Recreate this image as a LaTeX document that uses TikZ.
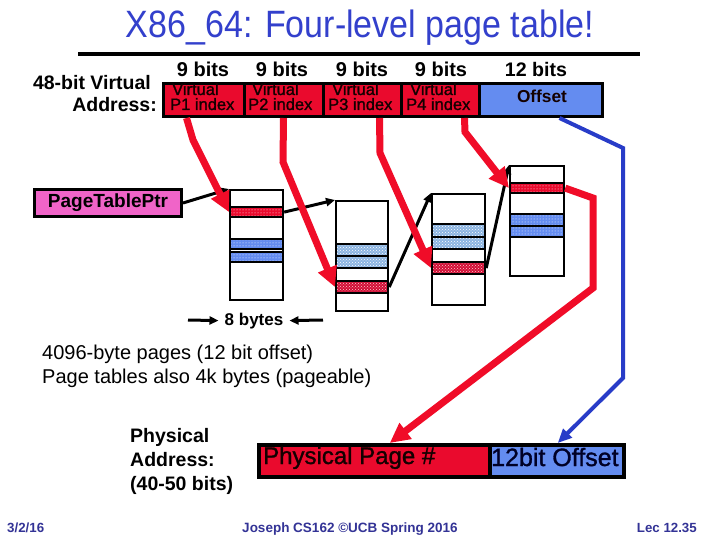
\documentclass[tikz,border=0pt]{standalone}
\usepackage{fontspec}
\setmainfont{Liberation Sans}
\newfontfamily\thickfont{Liberation Sans}[FakeBold=1.2]
\usetikzlibrary{arrows.meta,patterns}
\definecolor{ttl}{RGB}{51,64,204}
\definecolor{foot}{RGB}{51,51,150}
\definecolor{vred}{RGB}{234,10,45}
\definecolor{vblue}{RGB}{100,140,240}
\definecolor{pinkb}{RGB}{240,100,200}
\definecolor{darkt}{RGB}{20,0,0}
\definecolor{lblue}{RGB}{140,180,225}
\definecolor{dred}{RGB}{210,15,55}
\definecolor{arrred}{RGB}{240,12,40}
\definecolor{arrblue}{RGB}{40,60,200}
\tikzset{
  txt/.style={inner sep=0pt},
  fsz/.style={font=\fontsize{#1}{#1}\selectfont},
  tsz/.style={font=\thickfont\fontsize{#1}{#1}\selectfont},
  bsz/.style={font=\bfseries\fontsize{#1}{#1}\selectfont},
  vbox/.style={draw=black, line width=3pt, fill=vred, anchor=north west, minimum height=33pt, inner sep=0pt},
  tbl/.style={draw=black, line width=2pt, fill=white, anchor=north west, inner sep=0pt},
  band/.style={draw=black, line width=2.2pt, anchor=north west, inner sep=0pt},
  redA/.style={preaction={fill=vred}, preaction={pattern=dots, pattern color=white}},
  blueA/.style={preaction={fill=vblue}, preaction={pattern=dots, pattern color=white}},
  redB/.style={preaction={fill=dred}, preaction={pattern=crosshatch dots, pattern color=white!80!red}},
  blueB/.style={preaction={fill=lblue}, preaction={pattern=crosshatch dots, pattern color=white}},
  blk/.style={draw=black, line width=3pt, -{Triangle[length=9pt,width=8pt]}},
  rarr/.style={draw=arrred, line width=7pt, line join=miter, -{Triangle[length=20pt,width=19pt]}},
  barr/.style={draw=arrblue, line width=4pt, -{Triangle[length=14pt,width=12pt]}}
}
\begin{document}
\begin{tikzpicture}[x=1pt,y=-1pt]
\useasboundingbox (0,0) rectangle (720,540);
\fill[white] (0,0) rectangle (720,540);

% title
\node[txt, anchor=base, fsz=34, text=ttl] (title) at (360,38) {\scalebox{1}[1.12]{X86\_64: Four-level page table!}};
\draw[line width=4pt] (78,54) -- (640,54);

% virtual address
\node[txt, anchor=base east, bsz=19.5] (va1) at (151,90) {48-bit Virtual};
\node[txt, anchor=base east, bsz=19.5] (va2) at (157,112) {Address:};

\node[txt, anchor=base, bsz=20] (b1) at (203,77) {9 bits};
\node[txt, anchor=base, bsz=20] (b2) at (282,77) {9 bits};
\node[txt, anchor=base, bsz=20] (b3) at (362,77) {9 bits};
\node[txt, anchor=base, bsz=20] (b4) at (441,77) {9 bits};
\node[txt, anchor=base, bsz=19.6] (b5) at (536,77) {12 bits};

\node[vbox, minimum width=81pt] (p1) at (162,82) {};
\node[vbox, minimum width=79pt] (p2) at (243,82) {};
\node[vbox, minimum width=78pt] (p3) at (322,82) {};
\node[vbox, minimum width=78pt] (p4) at (400,82) {};
\node[vbox, fill=vblue, minimum width=123pt] (off) at (478,82) {};

\node[txt, anchor=base west, tsz=16.5, text=darkt] at (172,95) {Virtual};
\node[txt, anchor=base west, tsz=16.5, text=darkt] at (170,110) {P1 index};
\node[txt, anchor=base west, tsz=16.5, text=darkt] at (252,95) {Virtual};
\node[txt, anchor=base west, tsz=16.5, text=darkt] at (248,110) {P2 index};
\node[txt, anchor=base west, tsz=16.5, text=darkt] at (332,95) {Virtual};
\node[txt, anchor=base west, tsz=16.5, text=darkt] at (328,110) {P3 index};
\node[txt, anchor=base west, tsz=16.5, text=darkt] at (410,95) {Virtual};
\node[txt, anchor=base west, tsz=16.5, text=darkt] at (406,110) {P4 index};
\node[txt, anchor=base, bsz=17.3, text=darkt] at (542,103) {Offset};

% page table pointer
\node[draw=black, line width=3pt, fill=pinkb, anchor=north west, minimum width=147pt, minimum height=27pt, inner sep=0pt, bsz=19] (ptp) at (33,188) {PageTablePtr};

% tables
\node[tbl, minimum width=53pt, minimum height=110pt] (t1) at (229,189) {};
\node[band, redA, minimum width=53pt, minimum height=10pt] (t1r) at (229,206) {};
\node[band, blueA, minimum width=53pt, minimum height=10pt] (t1b1) at (229,238) {};
\node[band, blueA, minimum width=53pt, minimum height=10pt] (t1b2) at (229,251) {};

\node[tbl, minimum width=52pt, minimum height=110pt] (t2) at (335,200) {};
\node[band, blueB, minimum width=52pt, minimum height=12pt] (t2b1) at (335,243) {};
\node[band, blueB, minimum width=52pt, minimum height=12pt] (t2b2) at (335,255) {};
\node[band, redB, minimum width=52pt, minimum height=12pt] (t2r) at (335,280) {};

\node[tbl, minimum width=53pt, minimum height=111pt] (t3) at (431,193) {};
\node[band, blueB, minimum width=53pt, minimum height=13pt] (t3b1) at (431,223) {};
\node[band, blueB, minimum width=53pt, minimum height=12pt] (t3b2) at (431,236) {};
\node[band, redB, minimum width=53pt, minimum height=12pt] (t3r) at (431,261) {};

\node[tbl, minimum width=54pt, minimum height=110pt] (t4) at (509,165) {};
\node[band, redA, minimum width=54pt, minimum height=10pt] (t4r) at (509,182) {};
\node[band, blueA, minimum width=54pt, minimum height=12pt] (t4b1) at (509,213) {};
\node[band, blueA, minimum width=54pt, minimum height=11pt] (t4b2) at (509,225) {};

% black pointer arrows
\draw[blk] (ptp.east) -- (t1.north west);
\draw[blk] (t1r.east) -- (t2.north west);
\draw[blk] (t2r.east) -- (t3.north west);
\draw[blk] (t3r.east) -- (t4.north west);

% 8 bytes
\node[inner xsep=6pt, inner ysep=0pt, anchor=base, bsz=17] (eb) at (254,325) {8 bytes};
\coordinate (ebl) at (188,320);
\coordinate (ebr) at (323,320);
\draw[blk] (ebl) -- (eb.west);
\draw[blk] (ebr) -- (eb.east);

% notes
\node[txt, anchor=base west, fsz=20] (n1) at (42,359) {4096-byte pages (12 bit offset)};
\node[txt, anchor=base west, fsz=20] (n2) at (42,383) {Page tables also 4k bytes (pageable)};

% physical address
\node[txt, anchor=base west, bsz=19.5] (pa1) at (130,442) {Physical};
\node[txt, anchor=base west, bsz=19.5] (pa2) at (130,466) {Address:};
\node[txt, anchor=base west, bsz=19.5] (pa3) at (130,490) {(40-50 bits)};

\node[draw=black, line width=3.5pt, fill=vred, anchor=north west, minimum width=231pt, minimum height=32pt, inner sep=0pt] (pp) at (257,443) {};
\node[draw=black, line width=3.5pt, fill=vblue, anchor=north west, minimum width=134pt, minimum height=32pt, inner sep=0pt] (po) at (488,443) {};
\node[txt, anchor=base west, tsz=24, text=darkt] at (263,464) {Physical Page \#};
\node[txt, anchor=base west, tsz=25, text=black!85!blue] at (491,466) {12bit Offset};

% red index arrows
\draw[rarr] ([xshift=-17.5pt]p1.south) -- (193,140) -- (t1r.west);
\draw[rarr] ([xshift=-0.5pt]p2.south) -- (283,162) -- (t2r.west);
\draw[rarr] ([xshift=17pt]p3.south) -- (380,153) -- (t3r.west);
\draw[rarr] ([xshift=24pt]p4.south) -- (465,132) -- (t4r.west);
\draw[rarr] (t4r.east) -- (593,198) -- (593,288) -- ([xshift=15.5pt]pp.north);

% blue offset arrow
\draw[barr] ([xshift=18.5pt]off.south) -- (623,148) -- (623,378) -- ([xshift=1pt]po.north);

% footer
\node[txt, anchor=base west, bsz=13.3, text=foot] (f1) at (7,532) {3/2/16};
\node[txt, anchor=base, bsz=13.5, text=foot] (f2) at (350,532) {Joseph CS162 ©UCB Spring 2016};
\node[txt, anchor=base east, bsz=13.3, text=foot] (f3) at (697,532) {Lec 12.35};
\end{tikzpicture}
\end{document}
